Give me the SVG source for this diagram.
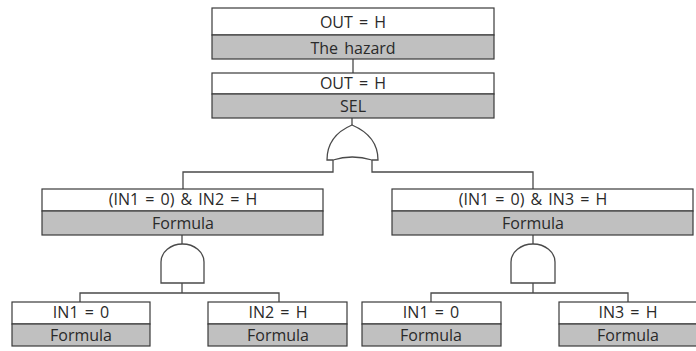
<svg xmlns="http://www.w3.org/2000/svg" width="696" height="351" viewBox="0 0 696 351">
<style>
.bg{fill:#ffffff}
.top{fill:#ffffff;stroke:#3a3a3a;stroke-width:1.2}
.bot{fill:#c0c0c0;stroke:#3a3a3a;stroke-width:1.2}
.t{font-family:"Open Sans","DejaVu Sans",sans-serif;font-size:16px;word-spacing:2px;fill:#2a2a2a;text-anchor:middle}
.c{fill:none;stroke:#4a4a4a;stroke-width:1.3}
.g{fill:#ffffff;stroke:#4a4a4a;stroke-width:1.3}
</style>
<rect class="bg" x="0" y="0" width="696" height="351"/>
<g id="connectors">
<line class="c" x1="353" y1="59" x2="353" y2="73"/>
<line class="c" x1="352" y1="118" x2="352" y2="125"/>
<polyline class="c" points="333,160 333,172 183,172 183,189"/>
<polyline class="c" points="372,160 372,172 533,172 533,189"/>
<line class="c" x1="182" y1="235" x2="182" y2="244"/>
<polyline class="c" points="80,302 80,293 279,293 279,302"/>
<line class="c" x1="182" y1="283" x2="182" y2="293"/>
<line class="c" x1="533" y1="235" x2="533" y2="244"/>
<polyline class="c" points="431,302 431,293 628,293 628,302"/>
<line class="c" x1="533" y1="283" x2="533" y2="293"/>
</g>
<g id="gate-or">
<path class="g" d="M327 160 C327 141 338 131 352 125 C366 131 378 141 378 160 L372 160 Q352 154 333 160 Z"/>
</g>
<g id="gate-and-left">
<path class="g" d="M161 283 L161 262 A21.5 18 0 0 1 204 262 L204 283 Z"/>
</g>
<g id="gate-and-right">
<path class="g" d="M511 283 L511 262 A22 18 0 0 1 555 262 L555 283 Z"/>
</g>
<g id="n-top">
<rect class="top" x="212" y="8" width="282" height="27"/>
<rect class="bot" x="212" y="35" width="282" height="24"/>
<text class="t" x="353" y="28">OUT = H</text>
<text class="t" x="353" y="54">The hazard</text>
</g>
<g id="n-sel">
<rect class="top" x="212" y="73" width="282" height="21"/>
<rect class="bot" x="212" y="94" width="282" height="24"/>
<text class="t" x="353" y="89">OUT = H</text>
<text class="t" x="353" y="112">SEL</text>
</g>
<g id="n-mid-left">
<rect class="top" x="42" y="189" width="281" height="22"/>
<rect class="bot" x="42" y="211" width="281" height="24"/>
<text class="t" x="183" y="205">(IN1 = 0) &amp; IN2 = H</text>
<text class="t" x="183" y="229">Formula</text>
</g>
<g id="n-mid-right">
<rect class="top" x="392" y="189" width="301" height="22"/>
<rect class="bot" x="392" y="211" width="301" height="24"/>
<text class="t" x="533" y="205">(IN1 = 0) &amp; IN3 = H</text>
<text class="t" x="533" y="229">Formula</text>
</g>
<g id="n-ll">
<rect class="top" x="12" y="302" width="138" height="22"/>
<rect class="bot" x="12" y="324" width="138" height="22"/>
<text class="t" x="81" y="318">IN1 = 0</text>
<text class="t" x="81" y="341">Formula</text>
</g>
<g id="n-lr">
<rect class="top" x="208" y="302" width="139" height="22"/>
<rect class="bot" x="208" y="324" width="139" height="22"/>
<text class="t" x="278" y="318">IN2 = H</text>
<text class="t" x="278" y="341">Formula</text>
</g>
<g id="n-rl">
<rect class="top" x="362" y="302" width="139" height="22"/>
<rect class="bot" x="362" y="324" width="139" height="22"/>
<text class="t" x="431" y="318">IN1 = 0</text>
<text class="t" x="431" y="341">Formula</text>
</g>
<g id="n-rr">
<rect class="top" x="559" y="302" width="139" height="22"/>
<rect class="bot" x="559" y="324" width="139" height="22"/>
<text class="t" x="628" y="318">IN3 = H</text>
<text class="t" x="628" y="341">Formula</text>
</g>
</svg>
